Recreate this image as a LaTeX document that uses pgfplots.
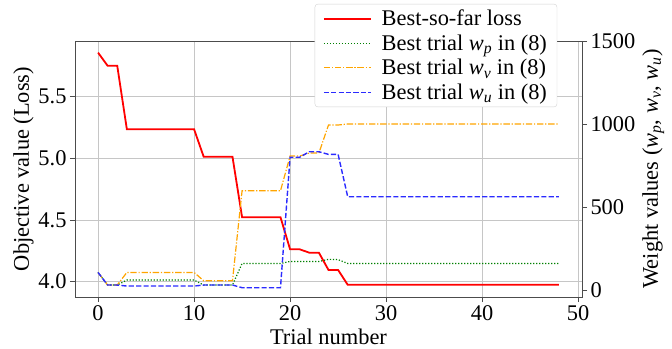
\documentclass[border=0pt]{standalone}
\usepackage{fontspec}
\setmainfont{Liberation Serif}
\usepackage{pgfplots}
\pgfplotsset{compat=1.18}
\newcommand{\w}[1]{\textit{w}\textsubscript{\textit{#1}}}
\definecolor{mplgreen}{HTML}{008000}
\definecolor{mplorange}{HTML}{FFA500}
\definecolor{mplblue}{HTML}{2B2BFF}
\begin{document}
\begin{tikzpicture}
\useasboundingbox (-75bp,-52bp) rectangle (597bp,297bp);
\pgfplotsset{every axis/.append style={
  scale only axis, width=507bp, height=256bp, xmin=-2.4, xmax=50.4,
  tick label style={font=\fontsize{22.5}{25}\selectfont},
  label style={font=\fontsize{22.5}{25}\selectfont},
  /pgf/number format/assume math mode=true,
  /pgf/number format/1000 sep={},
  tick align=outside, major tick length=5bp,
  axis line style={black!70, line width=0.8bp}, tick style={black!70, line width=0.8bp},
}}
\begin{axis}[
  ymin=3.876, ymax=5.949,
  xtick={0,10,20,30,40,50}, ytick={4.0,4.5,5.0,5.5},
  xtick pos=bottom, ytick pos=left,
  yticklabel style={/pgf/number format/.cd, fixed, fixed zerofill, precision=1},
  grid=major, grid style={gray!45, line width=0.6bp},
  xlabel={Trial number}, ylabel={Objective value (Loss)},
  xlabel style={yshift=-1bp}, ylabel style={yshift=-2bp},
]
\addplot[red, line width=1.8bp] coordinates {
(0,5.855)(1,5.748)(2,5.748)(3,5.235)(10,5.235)(11,5.012)(14,5.012)(15,4.522)(19,4.522)
(20,4.262)(21,4.262)(22,4.235)(23,4.235)(24,4.095)(25,4.095)(26,3.975)(48,3.975)};
\end{axis}
\begin{axis}[
  ymin=-42, ymax=1500,
  axis x line=none, axis y line*=right,
  ytick={0,500,1000,1500}, ytick pos=right, yticklabel pos=right,
  ylabel={Weight values (\w{p},  \w{v},  \w{u})},
  legend style={at={(rel axis cs:0.951,1.145)}, anchor=north east,
    font=\fontsize{22.5}{25}\selectfont, draw=gray!35, rounded corners=3bp,
    fill=white,
    row sep=3.5bp, inner xsep=8bp, inner ysep=4bp, column sep=8bp},
  legend cell align=left,
  legend image code/.code={\draw[#1] (0bp,0bp) -- (47bp,0bp);},
]
\addlegendimage{red, line width=1.8bp}
\addlegendentry{Best-so-far loss}
\addplot[mplgreen, line width=1.2bp, dash pattern=on 1.2bp off 1.8bp] coordinates {
(0,106)(1,30)(2,30)(3,60)(10,60)(11,30)(14,30)(15,160)(19,160)(20,172)(23,172)(24,185)(25,183)(26,160)(48,160)};
\addlegendentry{Best trial \w{p} in (8)}
\addplot[mplorange, line width=1.2bp, dash pattern=on 6.4bp off 1.8bp on 1.2bp off 1.8bp] coordinates {
(0,106)(1,30)(2,30)(3,106)(10,106)(11,56)(14,56)(15,598)(19,598)(20,807)(21,807)(22,825)(23,825)(24,994)(25,994)(26,1000)(48,1000)};
\addlegendentry{Best trial \w{v} in (8)}
\addplot[mplblue, line width=1.4bp, dash pattern=on 5.2bp off 2.2bp] coordinates {
(0,106)(1,30)(2,30)(3,24)(10,24)(11,30)(14,30)(15,14)(19,14)(20,800)(21,800)(22,833)(23,833)(24,817)(25,817)(26,562)(48,562)};
\addlegendentry{Best trial \w{u} in (8)}
\end{axis}
\end{tikzpicture}
\end{document}
